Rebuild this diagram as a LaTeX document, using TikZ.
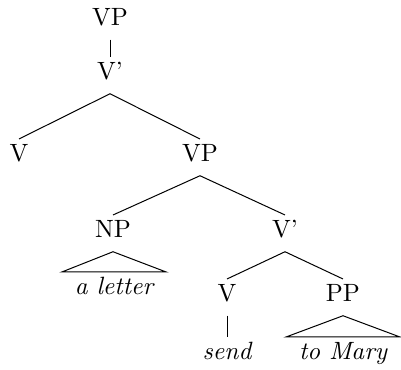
\documentclass[tikz,border=0pt]{standalone}
\usepackage{tikz}

\tikzset{
  cat/.style={anchor=base, inner sep=2pt, text height=7pt, text depth=3.3pt},
  leaf/.style={cat, inner xsep=5pt, font=\itshape}
}

\begin{document}
\begin{tikzpicture}[x=0.4pt, y=-0.4pt]
\useasboundingbox (0,0) rectangle (401,370);

% categories
\node [cat] (vp1) at (110,26) {VP};
\node [cat] (vb1) at (110,80) {V'};
\node [cat] (v1) at (19,162) {V};
\node [cat] (vp2) at (200,162) {VP};
\node [cat] (np) at (113,238) {NP};
\node [cat] (vb2) at (285,238) {V'};
\node [cat] (v2) at (227,302) {V};
\node [cat] (pp) at (343,302) {PP};

% words
\node [leaf] (letter) at (114,295) {a letter};
\node [leaf, inner xsep=2pt] (send) at (227,360) {send};
\node [leaf] (mary) at (343,360) {to Mary};

% branches
\draw (vp1.south) -- (vb1.north);
\draw (v1.north) -- (vb1.south) -- (vp2.north);
\draw (np.north) -- (vp2.south) -- (vb2.north);
\draw (v2.north) -- (vb2.south) -- (pp.north);
\draw (v2.south) -- (send.north);

% roofs
\draw (np.south) -- (letter.north west) -- (letter.north east) -- cycle;
\draw (pp.south) -- (mary.north west) -- (mary.north east) -- cycle;
\end{tikzpicture}
\end{document}
